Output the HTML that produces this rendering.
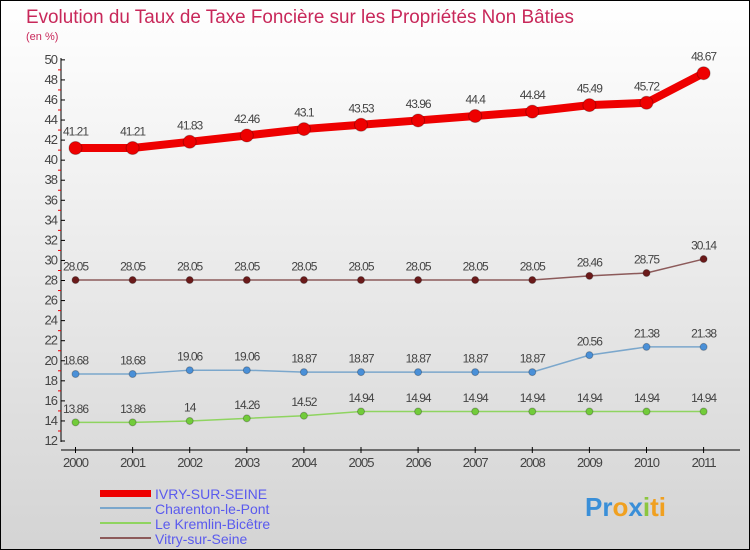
<!DOCTYPE html>
<html><head><meta charset="utf-8"><style>
body{margin:0;width:750px;height:550px;overflow:hidden;font-family:"Liberation Sans",sans-serif}
#wrap{position:absolute;left:0;top:0;width:748px;height:548px;border:1px solid #000;background:linear-gradient(#fff,#d4d4d4)}
</style></head><body>
<div id="wrap">
<svg id="svg" width="750" height="550" style="position:absolute;left:-1px;top:-1px">
<text x="26" y="23" font-size="19" fill="#c8285a" textLength="548" lengthAdjust="spacingAndGlyphs">Evolution du Taux de Taxe Foncière sur les Propriétés Non Bâties</text>
<text x="26" y="40" font-size="11" fill="#c8285a">(en %)</text>
<g id="axes"></g><g id="series"></g>
<g>
<rect x="100" y="490" width="51" height="7" fill="#e00"/>
<text x="155" y="499" font-size="14" fill="#5a5aee">IVRY-SUR-SEINE</text>
<rect x="100" y="507" width="51" height="2" fill="#7ba7cc"/>
<text x="155" y="514" font-size="14" fill="#5a5aee">Charenton-le-Pont</text>
<rect x="100" y="522" width="51" height="2" fill="#8fd460"/>
<text x="155" y="529" font-size="14" fill="#5a5aee">Le Kremlin-Bicêtre</text>
<rect x="100" y="537" width="51" height="2" fill="#8c5a5a"/>
<text x="155" y="544" font-size="14" fill="#5a5aee">Vitry-sur-Seine</text>
</g>
<text x="585" y="516" font-size="26" font-weight="bold"><tspan fill="#3a8fd8">Pr</tspan><tspan fill="#f0a020">o</tspan><tspan fill="#3a8fd8">x</tspan><tspan fill="#8cc63f">i</tspan><tspan fill="#f0a020">ti</tspan></text>
</svg></div>
<script>
const years=["2000","2001","2002","2003","2004","2005","2006","2007","2008","2009","2010","2011"];
const ivry=[41.21,41.21,41.83,42.46,43.1,43.53,43.96,44.4,44.84,45.49,45.72,48.67];
const charenton=[18.68,18.68,19.06,19.06,18.87,18.87,18.87,18.87,18.87,20.56,21.38,21.38];
const kremlin=[13.86,13.86,14,14.26,14.52,14.94,14.94,14.94,14.94,14.94,14.94,14.94];
const vitry=[28.05,28.05,28.05,28.05,28.05,28.05,28.05,28.05,28.05,28.46,28.75,30.14];
const yTicks=[12,14,16,18,20,22,24,26,28,30,32,34,36,38,40,42,44,46,48,50];
const NS="http://www.w3.org/2000/svg";
const X=i=>75.5+i*57.1, Y=v=>441-(v-12)*10.03;
function mk(t,a,p){const e=document.createElementNS(NS,t);for(const k in a)e.setAttribute(k,a[k]);p.appendChild(e);return e;}
const ax=document.getElementById('axes'), sg=document.getElementById('series');
let e=mk('line',{x1:61,y1:58,x2:61,y2:442,stroke:'#000'},ax);


e=mk('line',{x1:61,y1:450,x2:740,y2:450,stroke:'#000'},ax);


yTicks.forEach(v=>{mk('line',{x1:61,y1:Y(v),x2:65,y2:Y(v),stroke:'#000'},ax);
 if(v<50)mk('line',{x1:58,y1:Y(v+1),x2:61,y2:Y(v+1),stroke:'#e00'},ax);
 const t=mk('text',{x:57,y:Y(v)+4,'font-size':13,fill:'#444','text-anchor':'end','letter-spacing':'-1'},ax);t.textContent=v;
 
 });
years.forEach((y,i)=>{mk('line',{x1:X(i),y1:447,x2:X(i),y2:453,stroke:'#000'},ax);
 const t=mk('text',{x:X(i),y:467,'font-size':13,fill:'#444','text-anchor':'middle','letter-spacing':'-1'},ax);t.textContent=y;
 
 });
function series(d,name,col,dot,w,r){
 const g=mk('g',{},sg);
 
 
 mk('polyline',{points:d.map((v,i)=>X(i)+','+Y(v)).join(' '),fill:'none',stroke:col,'stroke-width':w},g);
 d.forEach((v,i)=>{const c=mk('circle',{cx:X(i),cy:Y(v),r:r,fill:dot,stroke:'rgba(0,0,0,0.25)'},g);
  
  
  const t=mk('text',{x:X(i),y:Y(v)-(r+6),'font-size':12,fill:'#444','text-anchor':'middle','letter-spacing':'-1'},g);t.textContent=v;
  
  });
}
series(vitry,'vitry','#8c5a5a','#6b1a1a',1.5,3.5);
series(charenton,'charenton','#7ba7cc','#4a90d8',1.5,3.5);
series(kremlin,'kremlin','#8fd460','#72cc3a',1.5,3.5);
series(ivry,'ivry','#e00','#e00',8,6.5);
</script>
</body></html>
